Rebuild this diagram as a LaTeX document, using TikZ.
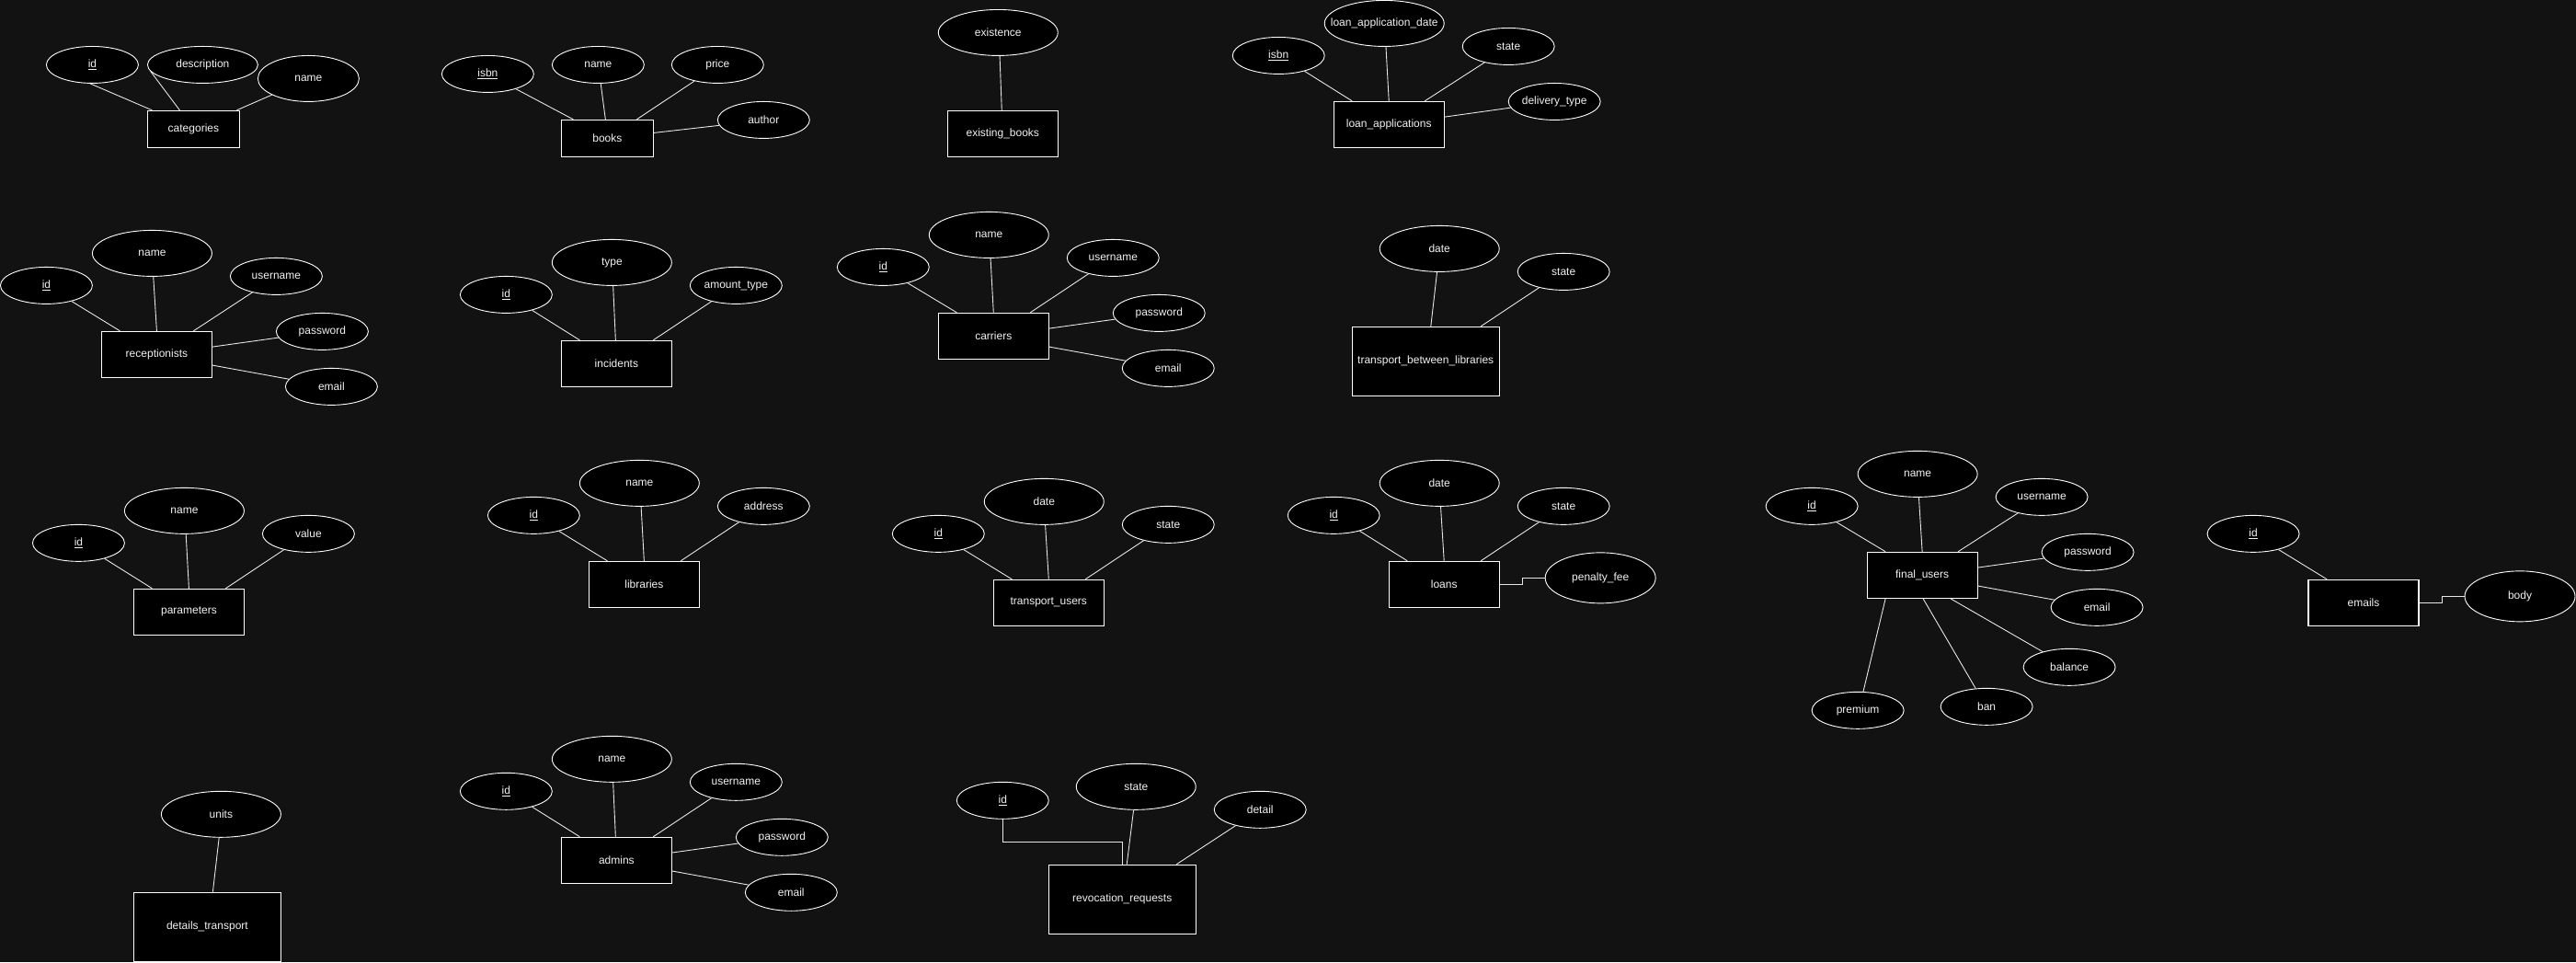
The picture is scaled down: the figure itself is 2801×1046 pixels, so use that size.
\documentclass[tikz,border=0pt]{standalone}
\usepackage{fontspec}
\setmainfont{Liberation Sans}
\usetikzlibrary{shapes.geometric}
\definecolor{bg}{HTML}{121212}
\definecolor{fg}{HTML}{F2F2F2}
\definecolor{ln}{HTML}{E6E6E6}
\newcommand\zw[1]{\makebox[0pt]{#1}}
\begin{document}
\begin{tikzpicture}[x=1pt,y=-1pt,
  base/.style={draw=white,fill=black,inner sep=0pt,text=fg,font=\fontsize{12}{14}\selectfont},
  attr/.style={base,ellipse,line width=0.9pt,minimum width=100pt,minimum height=40pt},
  big/.style={minimum width=130pt,minimum height=50pt},
  ent/.style={base,rectangle,line width=1.2pt,minimum width=120pt,minimum height=50pt},
  ent3/.style={minimum width=160pt,minimum height=75pt},
  conn/.style={draw=ln,line width=0.9pt}]
\path[fill=bg] (0,0) rectangle (2801,1046);

% categories
\node[attr] (cid) at (100,70) {\zw{\underline{id}}};
\node[attr,minimum width=120pt] (cdesc) at (220,70) {\zw{description}};
\node[attr,minimum width=110pt,minimum height=50pt] (cname) at (335,85) {\zw{name}};
\node[ent,minimum width=100pt,minimum height=40pt] (cat) at (210,140) {\zw{categories}};
\draw[conn] (cid.-97) -- ([xshift=-45pt]cat.north);
\draw[conn] (cdesc.187) -- ([xshift=-15pt]cat.north);
\draw[conn] (cname.204) -- ([xshift=47pt]cat.north);

% books
\node[attr] (bisbn) at (530,80) {\zw{\underline{isbn}}};
\node[attr] (bname) at (650,70) {\zw{name}};
\node[attr] (bprice) at (780,70) {\zw{price}};
\node[attr] (bauth) at (830,130) {\zw{author}};
\node[ent,minimum width=100pt,minimum height=40pt] (books) at (660,150) {\zw{books}};
\draw[conn] (bisbn.-28) -- ([xshift=-37pt]books.north);
\draw[conn] (bname.-82) -- ([xshift=-2pt]books.north);
\draw[conn] (bprice.215) -- ([xshift=32pt]books.north);
\draw[conn] (bauth.187) -- ([yshift=6pt]books.east);

% existing_books
\node[attr,big] (exist) at (1085,35) {\zw{existence}};
\node[ent] (exb) at (1090,145) {\zw{existing\_books}};
\draw[conn] (exist.-86) -- ([xshift=-1pt]exb.north);

% loan_applications
\node[attr] (lisbn) at (1390,60) {\zw{\underline{isbn}}};
\node[attr,big] (ldate) at (1505,25) {\zw{loan\_application\_date}};
\node[attr] (lstate) at (1640,50) {\zw{state}};
\node[attr] (ldel) at (1690,110) {\zw{delivery\_type}};
\node[ent] (la) at (1510,135) {\zw{loan\_applications}};
\draw[conn] (lisbn.-31) -- ([xshift=-40pt]la.north);
\draw[conn] (ldate.-86) -- (la.north);
\draw[conn] (lstate.214) -- ([xshift=39pt]la.north);
\draw[conn] (ldel.188) -- ([yshift=8.3pt]la.east);

% receptionists
\node[attr] (rid) at (50,310) {\zw{\underline{id}}};
\node[attr,big] (rname) at (165,275) {\zw{name}};
\node[attr] (ruser) at (300,300) {\zw{username}};
\node[attr] (rpass) at (350,360) {\zw{password}};
\node[attr] (remail) at (360,420) {\zw{email}};
\node[ent] (rec) at (170,385) {\zw{receptionists}};
\draw[conn] (rid.-32) -- ([xshift=-40pt]rec.north);
\draw[conn] (rname.-87) -- (rec.north);
\draw[conn] (ruser.214) -- ([xshift=40pt]rec.north);
\draw[conn] (rpass.188) -- ([yshift=8.3pt]rec.east);
\draw[conn] (remail.170) -- ([yshift=-11.7pt]rec.east);

% incidents
\node[attr] (iid) at (550,320) {\zw{\underline{id}}};
\node[attr,big] (itype) at (665,285) {\zw{type}};
\node[attr] (iamt) at (800,310) {\zw{amount\_type}};
\node[ent] (inc) at (670,395) {\zw{incidents}};
\draw[conn] (iid.-31) -- ([xshift=-40pt]inc.north);
\draw[conn] (itype.-87) -- ([xshift=-1pt]inc.north);
\draw[conn] (iamt.213) -- ([xshift=40pt]inc.north);

% carriers
\node[attr] (kid) at (960,290) {\zw{\underline{id}}};
\node[attr,big] (kname) at (1075,255) {\zw{name}};
\node[attr] (kuser) at (1210,280) {\zw{username}};
\node[attr] (kpass) at (1260,340) {\zw{password}};
\node[attr] (kemail) at (1270,400) {\zw{email}};
\node[ent] (car) at (1080,365) {\zw{carriers}};
\draw[conn] (kid.-33) -- ([xshift=-40pt]car.north);
\draw[conn] (kname.-86) -- (car.north);
\draw[conn] (kuser.213) -- ([xshift=40pt]car.north);
\draw[conn] (kpass.188) -- ([yshift=8.3pt]car.east);
\draw[conn] (kemail.170) -- ([yshift=-11.7pt]car.east);

% transport_between_libraries
\node[attr,big] (tdate) at (1565,270) {\zw{date}};
\node[attr] (tstate) at (1700,295) {\zw{state}};
\node[ent,ent3] (tbl) at (1550,392.5) {\zw{transport\_between\_libraries}};
\draw[conn] (tdate.-96) -- ([xshift=5.6pt]tbl.north);
\draw[conn] (tstate.213.5) -- ([xshift=60pt]tbl.north);

% parameters
\node[attr] (pid) at (85,590) {\zw{\underline{id}}};
\node[attr,big] (pname) at (200,555) {\zw{name}};
\node[attr] (pval) at (335,580) {\zw{value}};
\node[ent] (par) at (205,665) {\zw{parameters}};
\draw[conn] (pid.-31) -- ([xshift=-40pt]par.north);
\draw[conn] (pname.-86) -- (par.north);
\draw[conn] (pval.213) -- ([xshift=40pt]par.north);

% libraries
\node[attr] (lbid) at (580,560) {\zw{\underline{id}}};
\node[attr,big] (lbname) at (695,525) {\zw{name}};
\node[attr] (lbaddr) at (830,550) {\zw{address}};
\node[ent] (lib) at (700,635) {\zw{libraries}};
\draw[conn] (lbid.-32) -- ([xshift=-40pt]lib.north);
\draw[conn] (lbname.-86) -- (lib.north);
\draw[conn] (lbaddr.213) -- ([xshift=40pt]lib.north);

% transport_users
\node[attr] (tuid) at (1020,580) {\zw{\underline{id}}};
\node[attr,big] (tudate) at (1135,545) {\zw{date}};
\node[attr] (tustate) at (1270,570) {\zw{state}};
\node[ent] (tu) at (1140,655) {\zw{transport\_users}};
\draw[conn] (tuid.-32) -- ([xshift=-40pt]tu.north);
\draw[conn] (tudate.-87) -- (tu.north);
\draw[conn] (tustate.213.5) -- ([xshift=40pt]tu.north);

% loans
\node[attr] (loid) at (1450,560) {\zw{\underline{id}}};
\node[attr,big] (lodate) at (1565,525) {\zw{date}};
\node[attr] (lostate) at (1700,550) {\zw{state}};
\node[attr,minimum width=120pt,minimum height=55pt] (lopen) at (1740,628) {\zw{penalty\_fee}};
\node[ent] (loans) at (1570,635) {\zw{loans}};
\draw[conn] (loid.-31) -- ([xshift=-40pt]loans.north);
\draw[conn] (lodate.-87) -- (loans.north);
\draw[conn] (lostate.213.5) -- ([xshift=40pt]loans.north);
\draw[conn] (loans.east) -- ++(25,0) |- (lopen.west);

% final_users
\node[attr] (fid) at (1970,550) {\zw{\underline{id}}};
\node[attr,big] (fname) at (2085,515) {\zw{name}};
\node[attr] (fuser) at (2220,540) {\zw{username}};
\node[attr] (fpass) at (2270,600) {\zw{password}};
\node[attr] (femail) at (2280,660) {\zw{email}};
\node[attr] (fbal) at (2250,725) {\zw{balance}};
\node[attr] (fban) at (2160,768) {\zw{ban}};
\node[attr] (fprem) at (2020,772) {\zw{premium}};
\node[ent] (fu) at (2090,625) {\zw{final\_users}};
\draw[conn] (fid.-33) -- ([xshift=-40pt]fu.north);
\draw[conn] (fname.-87) -- (fu.north);
\draw[conn] (fuser.214) -- ([xshift=39pt]fu.north);
\draw[conn] (fpass.188) -- ([yshift=8.3pt]fu.east);
\draw[conn] (femail.170) -- ([yshift=-11.7pt]fu.east);
\draw[conn] (fbal.150) -- ([xshift=31pt]fu.south);
\draw[conn] (fban.121) -- ([xshift=1pt]fu.south);
\draw[conn] (fprem.74) -- ([xshift=-40pt]fu.south);

% emails
\node[attr] (eid) at (2450,580) {\zw{\underline{id}}};
\node[attr,minimum width=120pt,minimum height=55pt] (ebody) at (2740,648) {\zw{body}};
\node[ent] (em) at (2570,655) {\zw{emails}};
\draw[conn] (eid.-32.5) -- ([xshift=-40pt]em.north);
\draw[conn] (em.east) -- ++(25,0) |- (ebody.west);

% details_transport
\node[attr,big] (dunits) at (240,885) {\zw{units}};
\node[ent,ent3] (dt) at (225,1007.5) {\zw{details\_transport}};
\draw[conn] (dunits.-95) -- ([xshift=6pt]dt.north);

% admins
\node[attr] (aid) at (550,860) {\zw{\underline{id}}};
\node[attr,big] (aname) at (665,825) {\zw{name}};
\node[attr] (auser) at (800,850) {\zw{username}};
\node[attr] (apass) at (850,910) {\zw{password}};
\node[attr] (aemail) at (860,970) {\zw{email}};
\node[ent] (adm) at (670,935) {\zw{admins}};
\draw[conn] (aid.-31) -- ([xshift=-40pt]adm.north);
\draw[conn] (aname.-87) -- ([xshift=-1pt]adm.north);
\draw[conn] (auser.213.5) -- ([xshift=40pt]adm.north);
\draw[conn] (apass.188) -- ([yshift=8.3pt]adm.east);
\draw[conn] (aemail.170) -- ([yshift=-11.7pt]adm.east);

% revocation_requests
\node[attr] (vid) at (1090,870) {\zw{\underline{id}}};
\node[attr,big] (vstate) at (1235,855) {\zw{state}};
\node[attr] (vdet) at (1370,880) {\zw{detail}};
\node[ent,ent3] (rr) at (1220,977.5) {\zw{revocation\_requests}};
\draw[conn] (vid.south) -- ++(0,25) -| (rr.north);
\draw[conn] (vstate.-96) -- ([xshift=5pt]rr.north);
\draw[conn] (vdet.213.5) -- ([xshift=59pt]rr.north);
\end{tikzpicture}
\end{document}
